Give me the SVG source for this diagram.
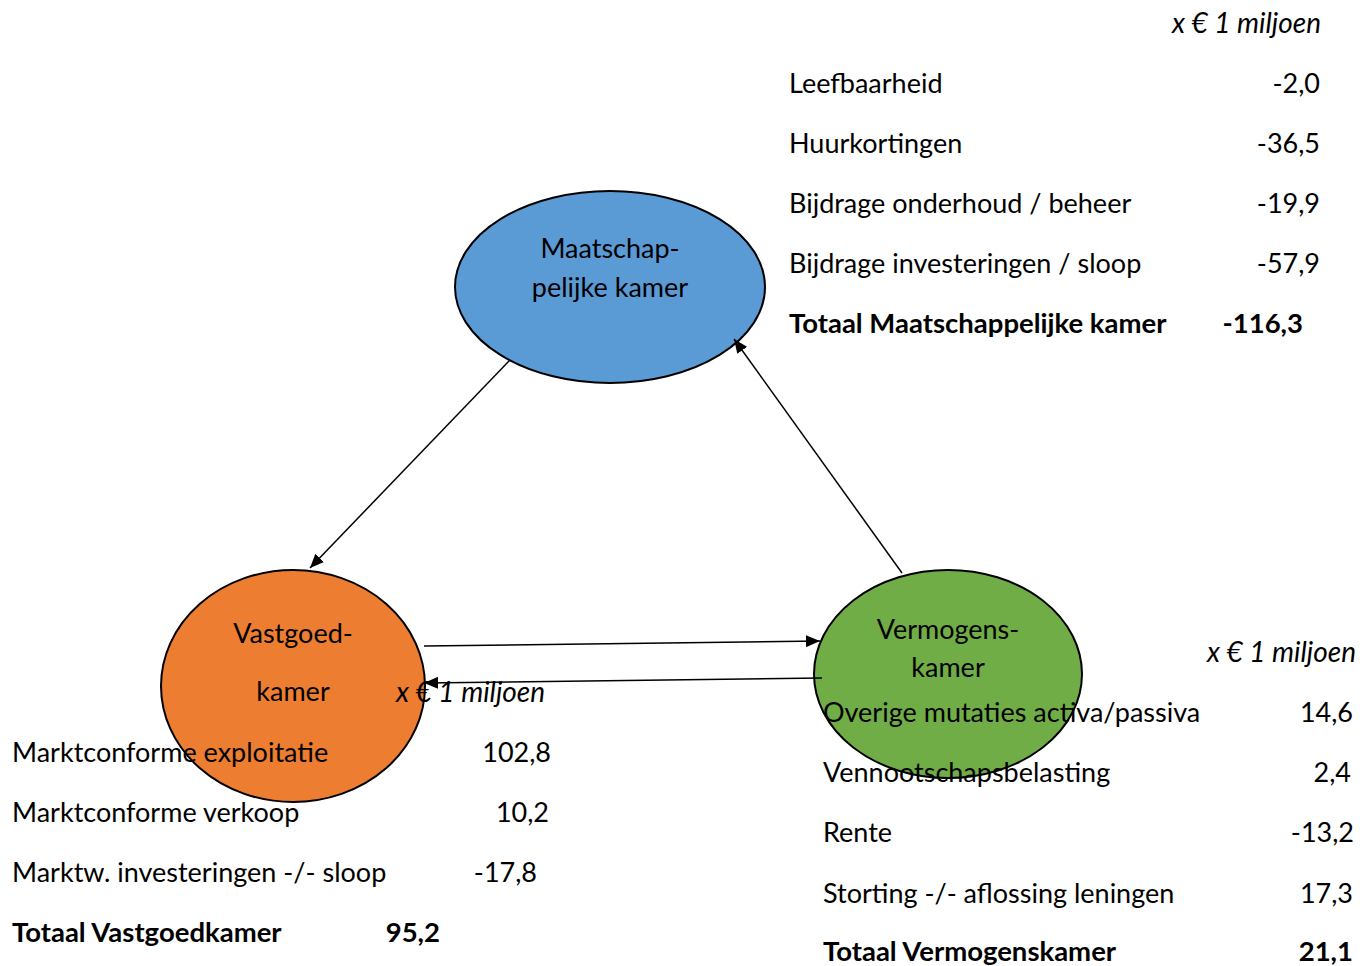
<svg xmlns="http://www.w3.org/2000/svg" width="1360" height="966" viewBox="0 0 1360 966">
<style>
text{font-family:Lato,"Open Sans","Liberation Sans",sans-serif;font-size:27px;fill:#000}
.i{font-style:italic;font-size:28px}
.b{font-weight:bold;font-size:27.5px}
.r{text-anchor:end}
.c{text-anchor:middle}
.node ellipse{stroke:#000;stroke-width:2}
.conn line{stroke:#000;stroke-width:1.5;marker-end:url(#ah)}
</style>
<defs>
<marker id="ah" viewBox="0 0 14 12" refX="14" refY="6" markerWidth="14" markerHeight="12" markerUnits="userSpaceOnUse" orient="auto">
<path d="M0,0 L14,6 L0,12 Z" fill="#000"/>
</marker>
</defs>
<rect width="1360" height="966" fill="#fff"/>
<g id="node-maatschappelijk" class="node">
<ellipse cx="610" cy="287" rx="155" ry="96" fill="#5B9BD5"/>
<text class="c" x="610" y="258">Maatschap-</text>
<text class="c" x="610" y="297">pelijke kamer</text>
</g>
<g id="node-vastgoed" class="node">
<ellipse cx="293" cy="686" rx="132" ry="116" fill="#ED7D31"/>
<text class="c" x="293" y="643">Vastgoed-</text>
<text class="c" x="293" y="701">kamer</text>
</g>
<g id="node-vermogen" class="node">
<ellipse cx="948" cy="674" rx="134" ry="104" fill="#70AD47"/>
<text class="c" x="948" y="639">Vermogens-</text>
<text class="c" x="948" y="677">kamer</text>
</g>
<g id="connectors" class="conn">
<line x1="510" y1="360" x2="310" y2="568"/>
<line x1="902" y1="573" x2="734" y2="339"/>
<line x1="424" y1="646" x2="820" y2="641"/>
<line x1="822" y1="678" x2="424" y2="683"/>
</g>
<g id="table-maatschappelijk">
<text class="i r" x="1321" y="33">x € 1 miljoen</text>
<text x="789" y="93">Leefbaarheid</text><text class="r" x="1320" y="93">-2,0</text>
<text x="789" y="153">Huurkortingen</text><text class="r" x="1320" y="153">-36,5</text>
<text x="789" y="213">Bijdrage onderhoud / beheer</text><text class="r" x="1320" y="213">-19,9</text>
<text x="789" y="273">Bijdrage investeringen / sloop</text><text class="r" x="1320" y="273">-57,9</text>
<text class="b" x="789" y="333">Totaal Maatschappelijke kamer</text><text class="b r" x="1303" y="333">-116,3</text>
</g>
<g id="table-vastgoed">
<text class="i" x="396" y="702">x € 1 miljoen</text>
<text x="12" y="762">Marktconforme exploitatie</text><text class="r" x="551" y="762">102,8</text>
<text x="12" y="822">Marktconforme verkoop</text><text class="r" x="549" y="822">10,2</text>
<text x="12" y="882">Marktw. investeringen -/- sloop</text><text class="r" x="537" y="882">-17,8</text>
<text class="b" x="12" y="942">Totaal Vastgoedkamer</text><text class="b r" x="440" y="942">95,2</text>
</g>
<g id="table-vermogen">
<text class="i r" x="1356" y="662">x € 1 miljoen</text>
<text x="823" y="722">Overige mutaties activa/passiva</text><text class="r" x="1353" y="722">14,6</text>
<text x="823" y="782">Vennootschapsbelasting</text><text class="r" x="1351" y="782">2,4</text>
<text x="823" y="842">Rente</text><text class="r" x="1354" y="842">-13,2</text>
<text x="823" y="903">Storting -/- aflossing leningen</text><text class="r" x="1353" y="903">17,3</text>
<text class="b" x="823" y="961">Totaal Vermogenskamer</text><text class="b r" x="1353" y="961">21,1</text>
</g>
</svg>
